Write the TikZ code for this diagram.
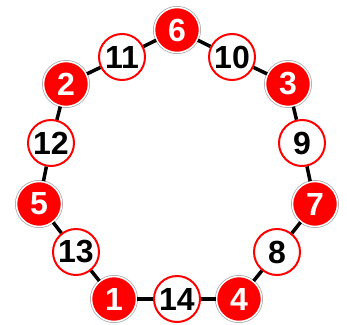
\documentclass[tikz,border=0pt]{standalone}
\usepackage{fontspec}
\setmainfont{Liberation Sans}
\usepackage{xcolor}
\usepackage{tikz}
\usetikzlibrary{positioning}
\definecolor{ringRed}{HTML}{FF0000}
\definecolor{ringGray}{HTML}{A8A8A8}
\definecolor{ringDark}{HTML}{000000}

\begin{document}
\begin{tikzpicture}[
  x=1pt, y=-1pt,
  every node/.style={font=\fontsize{32}{32}\selectfont\bfseries},
  rednode/.style={
    circle, minimum size=45pt, inner sep=0pt,
    preaction={draw=ringGray, line width=3pt},
    draw=white, line width=1.5pt,
    fill=ringRed, text=white
  },
  whitenode/.style={
    circle, minimum size=46pt, inner sep=0pt,
    draw=ringRed, line width=2pt,
    fill=white, text=ringDark
  },
  ringedge/.style={draw=ringDark, line width=3.5pt},
]
\useasboundingbox (0,0) rectangle (347,324);

% === TOP ===
\node[rednode] (n6) at (177,30) {6};
\node[whitenode] (n11) at (122,57) {11};
\node[whitenode] (n10) at (232,57) {10};

% === SIDES ===
\node[rednode] (n2) at (66,84) {2};
\node[rednode] (n3) at (288,84) {3};
\node[whitenode] (n12) at (51,143) {12};
\node[whitenode] (n9) at (302,143) {9};
\node[rednode] (n5) at (39,204) {5};
\node[rednode] (n7) at (315,204) {7};
\node[whitenode] (n13) at (76,252) {13};
\node[whitenode] (n8) at (277,252) {8};

% === BOTTOM ===
\node[rednode] (n1) at (114,299) {1};
\node[whitenode] (n14) at (177,299) {14};
\node[rednode] (n4) at (239,299) {4};

% Ring connections
\foreach \a/\b in {n6/n11, n11/n2, n2/n12, n12/n5, n5/n13, n13/n1, n1/n14,
                   n14/n4, n4/n8, n8/n7, n7/n9, n9/n3, n3/n10, n10/n6} {
  \draw[ringedge] (\a) -- (\b);
}

\end{tikzpicture}
\end{document}
